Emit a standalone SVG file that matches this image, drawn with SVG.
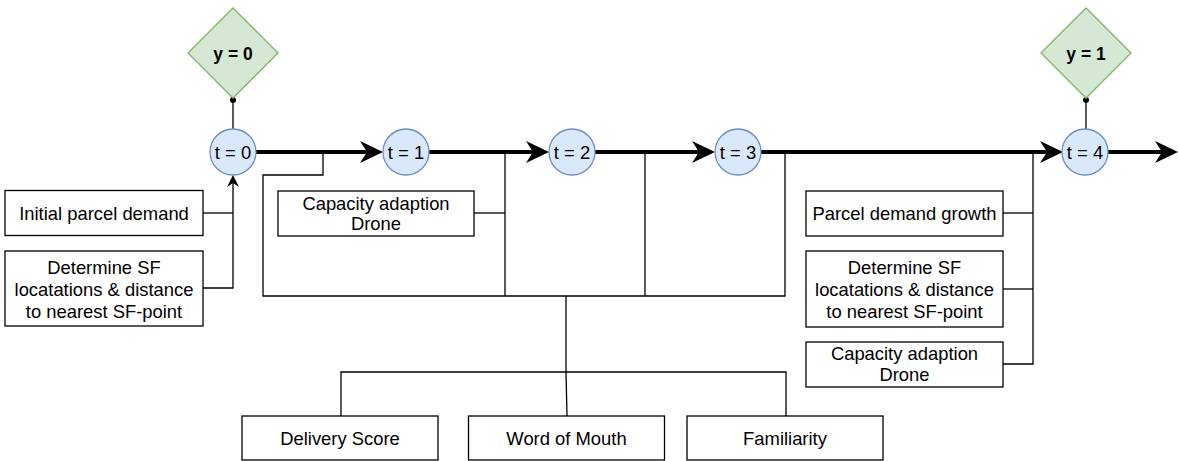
<svg xmlns="http://www.w3.org/2000/svg" width="1179" height="461" viewBox="0 0 1179 461">
  <style>
    .box { fill: #ffffff; stroke: #000000; stroke-width: 1.3; }
    .state { fill: #dae8fc; stroke: #6c8ebf; stroke-width: 1.3; }
    .outcome { fill: #d5e8d4; stroke: #82b366; stroke-width: 1.3; }
    .lbl { font-family: "Liberation Sans", Arial, sans-serif; font-size: 18.4px; fill: #000000; text-anchor: middle; }
    .bold { font-weight: bold; font-size: 17.5px; }
    .thin { fill: none; stroke: #000000; stroke-width: 1.3; }
    .thick { fill: none; stroke: #000000; stroke-width: 4; }
  </style>
  <defs>
    <marker id="bigArrow" markerUnits="userSpaceOnUse" markerWidth="24" markerHeight="22" viewBox="0 0 24 22" refX="7" refY="11" orient="auto">
      <path d="M0,0 L23,11 L0,22 L7,11 Z" fill="#000000"/>
    </marker>
    <marker id="smallArrow" markerUnits="userSpaceOnUse" markerWidth="13" markerHeight="12" viewBox="0 0 13 12" refX="4" refY="6" orient="auto">
      <path d="M0,0 L12,6 L0,12 L4,6 Z" fill="#000000"/>
    </marker>
  </defs>

  <!-- connectors -->
  <g id="connectors">
    <!-- time axis -->
    <line class="thick" x1="256" y1="152" x2="367" y2="152" marker-end="url(#bigArrow)"/>
    <line class="thick" x1="429" y1="152" x2="533" y2="152" marker-end="url(#bigArrow)"/>
    <line class="thick" x1="595" y1="152" x2="699" y2="152" marker-end="url(#bigArrow)"/>
    <line class="thick" x1="761" y1="152" x2="1047" y2="152" marker-end="url(#bigArrow)"/>
    <line class="thick" x1="1108" y1="152" x2="1162" y2="152" marker-end="url(#bigArrow)"/>

    <!-- outcome links -->
    <line class="thin" x1="233" y1="100" x2="233" y2="129"/>
    <circle cx="233" cy="100" r="3" fill="#000000"/>
    <line class="thin" x1="1086" y1="100" x2="1086" y2="129"/>
    <circle cx="1086" cy="100" r="3" fill="#000000"/>

    <!-- inputs at t = 0 -->
    <path class="thin" d="M203,213 H233"/>
    <path class="thin" d="M203,288 H233 V183" marker-end="url(#smallArrow)"/>

    <!-- feedback bracket between t = 0 and t = 3 -->
    <path class="thin" d="M323,152 V175 H263 V296 H785 V152"/>
    <line class="thin" x1="505" y1="152" x2="505" y2="296"/>
    <line class="thin" x1="645" y1="152" x2="645" y2="296"/>
    <path class="thin" d="M474,213 H505"/>

    <!-- adoption factors -->
    <path class="thin" d="M566,296 V372 L567,416"/>
    <path class="thin" d="M341,416 V372 H786 V416"/>

    <!-- inputs before t = 4 -->
    <path class="thin" d="M1033,152 V364 H1003"/>
    <path class="thin" d="M1003,213 H1033"/>
    <path class="thin" d="M1003,289 H1033"/>
  </g>

  <!-- outcome nodes -->
  <g id="y0">
    <polygon class="outcome" points="233,8 278,53 233,98 188,53"/>
    <text class="lbl bold" x="233" y="59.5">y = 0</text>
  </g>
  <g id="y1">
    <polygon class="outcome" points="1086,8 1131,53 1086,98 1041,53"/>
    <text class="lbl bold" x="1086" y="59.5">y = 1</text>
  </g>

  <!-- time steps -->
  <g id="t0">
    <circle class="state" cx="233" cy="152" r="23"/>
    <text class="lbl" x="233" y="158.5">t = 0</text>
  </g>
  <g id="t1">
    <circle class="state" cx="406" cy="152" r="23"/>
    <text class="lbl" x="406" y="158.5">t = 1</text>
  </g>
  <g id="t2">
    <circle class="state" cx="572" cy="152" r="23"/>
    <text class="lbl" x="572" y="158.5">t = 2</text>
  </g>
  <g id="t3">
    <circle class="state" cx="738" cy="152" r="23"/>
    <text class="lbl" x="738" y="158.5">t = 3</text>
  </g>
  <g id="t4">
    <circle class="state" cx="1085" cy="152" r="23"/>
    <text class="lbl" x="1085" y="158.5">t = 4</text>
  </g>

  <!-- left inputs -->
  <g id="initial-demand">
    <rect class="box" x="5" y="190.5" width="198" height="45"/>
    <text class="lbl" x="104" y="219.5">Initial parcel demand</text>
  </g>
  <g id="sf-locations-0">
    <rect class="box" x="5" y="251" width="198" height="75"/>
    <text class="lbl" x="104" y="273.5">Determine SF</text>
    <text class="lbl" x="104" y="295.5">locatations &amp; distance</text>
    <text class="lbl" x="104" y="317.5">to nearest SF-point</text>
  </g>
  <g id="capacity-1">
    <rect class="box" x="278" y="191" width="196" height="45"/>
    <text class="lbl" x="376" y="209.5">Capacity adaption</text>
    <text class="lbl" x="376" y="230">Drone</text>
  </g>

  <!-- right inputs -->
  <g id="demand-growth">
    <rect class="box" x="806" y="191" width="197" height="45"/>
    <text class="lbl" x="904.5" y="219.5">Parcel demand growth</text>
  </g>
  <g id="sf-locations-4">
    <rect class="box" x="806" y="251" width="197" height="76"/>
    <text class="lbl" x="904.5" y="273.5">Determine SF</text>
    <text class="lbl" x="904.5" y="295.5">locatations &amp; distance</text>
    <text class="lbl" x="904.5" y="317.5">to nearest SF-point</text>
  </g>
  <g id="capacity-4">
    <rect class="box" x="806" y="342" width="197" height="45"/>
    <text class="lbl" x="904.5" y="360">Capacity adaption</text>
    <text class="lbl" x="904.5" y="381">Drone</text>
  </g>

  <!-- adoption factors -->
  <g id="delivery-score">
    <rect class="box" x="242" y="416" width="196" height="44"/>
    <text class="lbl" x="340" y="444.5">Delivery Score</text>
  </g>
  <g id="word-of-mouth">
    <rect class="box" x="468.5" y="416" width="196" height="44"/>
    <text class="lbl" x="566.5" y="444.5">Word of Mouth</text>
  </g>
  <g id="familiarity">
    <rect class="box" x="687" y="416" width="196" height="44"/>
    <text class="lbl" x="785" y="444.5">Familiarity</text>
  </g>
</svg>
